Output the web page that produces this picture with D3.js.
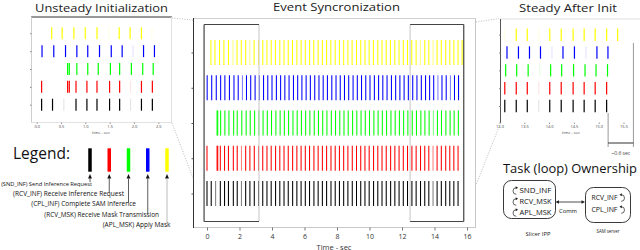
<!DOCTYPE html>
<html><head><meta charset="utf-8">
<script src="https://cdn.jsdelivr.net/npm/d3@7"></script>
<style>
html,body{margin:0;padding:0;background:#fff;}
svg{display:block;font-family:"Open Sans",sans-serif;}
</style></head><body>
<svg id="c" width="640" height="250"></svg>
<script>
// ---------------- DATA ----------------
const seriesKeys = ["SND_INF","RCV_INF","CPL_INF","RCV_MSK","APL_MSK"];
const seriesNames = ["Send Inference Request","Receive Inference Request","Complete SAM Inference","Receive Mask Transmission","Apply Mask"];

// event times (sec)
const sndInfTimes = [0.00,0.26,0.53,0.82,1.08,1.32,1.62,1.86,2.12,2.38,2.64,2.91,3.17,3.43,3.69,3.95,4.22,4.48,4.74,5.00,5.27,5.53,5.79,6.05,6.31,6.58,6.84,7.10,7.36,7.63,7.89,8.15,8.41,8.67,8.94,9.20,9.46,9.72,9.98,10.25,10.51,10.77,11.03,11.30,11.56,11.82,12.08,12.34,12.61,12.87,13.14,13.40,13.65,13.91,14.16,14.42,14.69,14.94,15.19,15.45];
const rcvInfTimes = [0.00,0.62,0.66,0.82,1.08,1.32,1.62,1.86,2.12,2.38,2.64,2.91,3.17,3.43,3.69,3.95,4.22,4.48,4.74,5.00,5.27,5.53,5.79,6.05,6.31,6.58,6.84,7.10,7.36,7.63,7.89,8.15,8.41,8.67,8.94,9.20,9.46,9.72,9.98,10.25,10.51,10.77,11.03,11.30,11.56,11.82,12.08,12.34,12.61,12.87,13.14,13.40,13.65,13.91,14.16,14.42,14.69,14.94,15.19,15.45];
const cplInfTimes = [0.62,0.66,0.84,1.10,1.35,1.64,1.86,2.14,2.41,2.66,2.93,3.19,3.45,3.71,3.97,4.24,4.50,4.76,5.02,5.29,5.55,5.81,6.07,6.33,6.60,6.86,7.12,7.38,7.65,7.91,8.17,8.43,8.69,8.96,9.22,9.48,9.74,10.00,10.27,10.53,10.79,11.05,11.32,11.58,11.84,12.10,12.36,12.63,12.89,13.16,13.41,13.67,13.93,14.18,14.43,14.70,14.96,15.21,15.47];
const rcvMskTimes = [0.01,0.29,0.57,0.84,1.10,1.38,1.66,1.92,2.18,2.43,2.69,2.96,3.22,3.48,3.74,4.00,4.27,4.53,4.79,5.05,5.32,5.58,5.84,6.10,6.36,6.63,6.89,7.15,7.41,7.68,7.94,8.20,8.46,8.72,8.99,9.25,9.51,9.77,10.03,10.30,10.56,10.82,11.08,11.35,11.61,11.87,12.13,12.39,12.66,12.92,13.19,13.45,13.70,13.95,14.21,14.46,14.72,14.98,15.23,15.48];
const aplMskTimes = [0.24,0.49,0.77,1.04,1.32,1.60,1.85,2.11,2.38,2.63,2.90,3.17,3.43,3.69,3.95,4.21,4.48,4.74,5.00,5.26,5.53,5.79,6.05,6.31,6.57,6.84,7.10,7.36,7.62,7.89,8.15,8.41,8.67,8.93,9.20,9.46,9.72,9.98,10.24,10.51,10.77,11.03,11.29,11.56,11.82,12.08,12.34,12.60,12.87,13.13,13.40,13.65,13.91,14.16,14.42,14.69,14.94,15.19,15.45,15.70];

// events that show up faint in the picture
const sndInfFaint = [0.53,2.12,13.91];
const rcvInfFaint = [2.12,13.91];
const cplInfFaint = [13.93];
const rcvMskFaint = [2.18,14.21,14.98];
const aplMskFaint = [1.60,2.63,13.13,13.91];

const mainTicks = [0,2,4,6,8,10,12,14,16];
const unsteadyTicks = [0,0.5,1.0,1.5,2.0,2.5];
const steadyTicks = [13.0,13.5,14.0,14.5,15.0,15.5];
const zoomLeft = [-0.18, 3.2];
const zoomRight = [12.5, 15.8];
const cycleMark = [15.19, 15.70];

const leftTasks = ["SND_INF","RCV_MSK","APL_MSK"];
const rightTasks = ["RCV_INF","CPL_INF"];

// ---------------- STYLE ----------------
const colors = {SND_INF:"#000000", RCV_INF:"#ff0000", CPL_INF:"#00ff00", RCV_MSK:"#0000ff", APL_MSK:"#ffff00"};
const timesBy = {SND_INF:sndInfTimes, RCV_INF:rcvInfTimes, CPL_INF:cplInfTimes, RCV_MSK:rcvMskTimes, APL_MSK:aplMskTimes};
const faintBy = {SND_INF:sndInfFaint, RCV_INF:rcvInfFaint, CPL_INF:cplInfFaint, RCV_MSK:rcvMskFaint, APL_MSK:aplMskFaint};
const rowOrder = seriesKeys.slice().reverse(); // top to bottom

const svg = d3.select("#c");

function fit(sel, w){
  const cur = parseFloat(sel.attr("font-size"));
  const bw = sel.node().getComputedTextLength();
  if (bw > 0) sel.attr("font-size", cur * w / bw);
  return sel;
}
function stretch(sel, w){
  return sel.attr("textLength", w).attr("lengthAdjust","spacingAndGlyphs");
}

function drawEvents(g, x, y, half, sw, faintOp){
  const dom = x.domain();
  seriesKeys.forEach(k => {
    const faint = new Set(faintBy[k]);
    const data = timesBy[k].filter(t => t >= dom[0] && t <= dom[1]);
    g.selectAll(null).data(data).join("line")
      .attr("x1", d => x(d)).attr("x2", d => x(d))
      .attr("y1", y(k) - half).attr("y2", y(k) + half)
      .attr("stroke", colors[k]).attr("stroke-width", sw)
      .attr("stroke-opacity", d => faint.has(d) ? faintOp : 1);
  });
}

function line(g, x1,y1,x2,y2, stroke, sw, dash){
  const l = g.append("line").attr("x1",x1).attr("y1",y1).attr("x2",x2).attr("y2",y2)
    .attr("stroke",stroke).attr("stroke-width",sw||1);
  if (dash) l.attr("stroke-dasharray", dash);
  return l;
}

// ---------------- MAIN CHART ----------------
const xMain = d3.scaleLinear().domain([0,16]).range([207,467]);
const yMain = d3.scalePoint().domain(rowOrder).range([52.5,193.5]);
const gm = svg.append("g");

// frame
line(gm, 193, 18.5, 476, 18.5, "#d0d0d0", 1);
line(gm, 475.5, 18.5, 475.5, 227.5, "#c8c8c8", 1);
line(gm, 193, 227.5, 476, 227.5, "#c8c8c8", 1);
line(gm, 193.5, 18, 193.5, 228, "#333", 1);

// y ticks
gm.append("g").attr("transform","translate(193.5,0)")
  .call(d3.axisLeft(yMain).tickSize(2).tickFormat(""))
  .call(a => a.select(".domain").remove())
  .call(a => a.selectAll("line").attr("stroke","#555"));

drawEvents(gm, xMain, yMain, 12.5, 1.05, 0.5);

// zoom highlight rectangles
const rT = 24.5, rB = 221.5;
{
  const a = xMain(zoomLeft[0]), b = xMain(zoomLeft[1]);
  line(gm, b, rT, b, rB, "#cfcfcf", 1.2);
  line(gm, a, rT, b, rT, "#444", 1.2);
  line(gm, a, rB, b, rB, "#444", 1.2);
  line(gm, a, rT, a, rB, "#444", 1.2);
}
{
  const a = xMain(zoomRight[0]), b = xMain(zoomRight[1]);
  line(gm, a, rT, a, rB, "#cfcfcf", 1.2);
  line(gm, a, rT, b, rT, "#444", 1.2);
  line(gm, a, rB, b, rB, "#444", 1.2);
  line(gm, b, rT, b, rB, "#444", 1.2);
}

// x axis
gm.append("g").attr("transform","translate(0,227.5)")
  .call(d3.axisBottom(xMain).tickValues(mainTicks).tickSize(3).tickFormat(d3.format("d")))
  .call(a => a.select(".domain").remove())
  .call(a => a.selectAll("line").attr("stroke","#777"))
  .call(a => a.selectAll("text").attr("y",6.3).attr("font-size",7).attr("fill","#333")
    .attr("font-family","'Open Sans',sans-serif"));

gm.append("text").attr("x",334).attr("y",249.5).attr("text-anchor","middle")
  .attr("font-size",7.5).attr("fill","#333").text("Time - sec");

stretch(svg.append("text").attr("x",336.5).attr("y",11).attr("text-anchor","middle")
  .attr("font-size",11).attr("fill","#222").text("Event Syncronization"), 127);

// dotted connectors
const dotC = "#bdbdbd";
line(svg, 172, 18, 193, 20, dotC, 1, "1,1.5");
line(svg, 172, 123, 193, 178, dotC, 1, "1,1.5");
line(svg, 476, 22, 499, 18.5, dotC, 1, "1,1.5");
line(svg, 499, 127, 476, 185, dotC, 1, "1,1.5");

// ---------------- UNSTEADY INSET ----------------
const xU = d3.scaleLinear().domain([0,2.5]).range([36.7,158.3]);
const yU = d3.scalePoint().domain(rowOrder).range([33.3,104.7]);
const gu = svg.append("g");
line(gu, 31, 17, 172, 17, "#333", 1);
line(gu, 171.5, 17, 171.5, 122.5, "#e2e2e2", 1);
line(gu, 31, 122.5, 172, 122.5, "#e2e2e2", 1);
line(gu, 31.5, 17, 31.5, 122.5, "#cfcfcf", 1);
gu.append("g").attr("transform","translate(31.5,0)")
  .call(d3.axisLeft(yU).tickSize(1.5).tickFormat(""))
  .call(a => a.select(".domain").remove())
  .call(a => a.selectAll("line").attr("stroke","#888"));
const xUc = xU.copy().domain([xU.invert(31), xU.invert(172)]);
drawEvents(gu, xUc, yU, 6, 1.2, 0.1);
gu.append("g").attr("transform","translate(0,122.5)")
  .call(d3.axisBottom(xU).tickValues(unsteadyTicks).tickSize(1.5).tickFormat(d3.format(".1f")))
  .call(a => a.select(".domain").remove())
  .call(a => a.selectAll("line").attr("stroke","#999"))
  .call(a => a.selectAll("text").attr("y",2.2).attr("font-size",4).attr("fill","#444")
    .attr("font-family","'Open Sans',sans-serif"));
gu.append("text").attr("x",101).attr("y",133.5).attr("text-anchor","middle")
  .attr("font-size",4).attr("fill","#444").text("time - sec");
stretch(svg.append("text").attr("x",101.5).attr("y",11.8).attr("text-anchor","middle")
  .attr("font-size",10.8).attr("fill","#222").text("Unsteady Initialization"), 133);

// ---------------- STEADY INSET ----------------
const xS = d3.scaleLinear().domain([13.0,15.5]).range([499.5,623.5]);
const yS = d3.scalePoint().domain(rowOrder).range([34.7,106]);
const gs = svg.append("g");
line(gs, 500, 19, 640, 19, "#e0e0e0", 1);
line(gs, 500.5, 19, 500.5, 123, "#555", 1);
gs.append("g").attr("transform","translate(500.5,0)")
  .call(d3.axisLeft(yS).tickSize(1.5).tickFormat(""))
  .call(a => a.select(".domain").remove())
  .call(a => a.selectAll("line").attr("stroke","#888"));
const xSc = xS.copy().domain([xS.invert(500.5), xS.invert(640)]);
drawEvents(gs, xSc, yS, 6.2, 1.2, 0.1);
gs.append("g").attr("transform","translate(0,122.5)")
  .call(d3.axisBottom(xS).tickValues(steadyTicks).tickSize(1.5).tickFormat(d3.format(".1f")))
  .call(a => a.select(".domain").remove())
  .call(a => a.selectAll("line").attr("stroke","#999"))
  .call(a => a.selectAll("text").attr("y",2.2).attr("font-size",4).attr("fill","#444")
    .attr("font-family","'Open Sans',sans-serif"));
gs.append("text").attr("x",571).attr("y",133.5).attr("text-anchor","middle")
  .attr("font-size",4).attr("fill","#444").text("time - sec");
// cycle bracket
{
  const a = xS(cycleMark[0]), b = xS(cycleMark[1]);
  line(gs, a, 113, a, 147, "#999", 1);
  line(gs, b, 43, b, 147, "#999", 1);
  line(gs, a, 143, b, 143, "#333", 1);
  gs.append("text").attr("x",(a+b)/2).attr("y",154.5).attr("text-anchor","middle")
    .attr("font-size",5).attr("fill","#444").text("~0.6 sec");
}
stretch(svg.append("text").attr("x",568).attr("y",12.2).attr("text-anchor","middle")
  .attr("font-size",11.3).attr("fill","#222").text("Steady After Init"), 98);

// ---------------- LEGEND ----------------
const gl = svg.append("g");
fit(gl.append("text").attr("x",13).attr("y",159).attr("font-size",14).attr("fill","#111").text("Legend:"), 57);
const xL = d3.scalePoint().domain(seriesKeys).range([90,167]);
const labelY = [183.5,193.5,204.2,215,224.5];
const labelEnd = [92,124,136,159,170.5];
const labelW = [91,111,105,115,68];
seriesKeys.forEach((k,i) => {
  const cx = xL(k);
  gl.append("rect").attr("x",cx-1.75).attr("y",148.3).attr("width",3.5).attr("height",23.4).attr("fill",colors[k]);
  gl.append("path").attr("d",`M${cx},174 L${cx-2},178.5 L${cx+2},178.5 Z`).attr("fill","#111");
  line(gl, cx, 178.5, cx, labelY[i]-1.5, i===4 ? "#aaa" : "#333", 0.8);
  const t = gl.append("text").attr("x",labelEnd[i]).attr("y",labelY[i]+2).attr("text-anchor","end")
    .attr("font-size",6).attr("fill","#111").text(`(${k}) ${seriesNames[i]}`);
  fit(t, labelW[i]);
});

// ---------------- TASK OWNERSHIP ----------------
const gt = svg.append("g");
stretch(gt.append("text").attr("x",570).attr("y",173).attr("text-anchor","middle")
  .attr("font-size",12.5).attr("fill","#111").text("Task (loop) Ownership"), 134);
gt.append("rect").attr("x",503.5).attr("y",180.5).attr("width",52).attr("height",38).attr("rx",8)
  .attr("fill","none").attr("stroke","#222").attr("stroke-width",0.9);
gt.append("rect").attr("x",585.5).attr("y",187.5).attr("width",45).attr("height",35).attr("rx",8)
  .attr("fill","none").attr("stroke","#222").attr("stroke-width",0.9);

const yLeftTask = d3.scalePoint().domain(leftTasks).range([191,213]);
const yRightTask = d3.scalePoint().domain(rightTasks).range([198,210]);
function loop(g, cx, cy, dir){
  const r = 3.3;
  g.append("path").attr("d",
    `M${cx+dir*1.8},${cy-r} A${r},${r} 0 1 ${dir>0?0:1} ${cx+dir*1.8},${cy+r}`)
    .attr("fill","none").attr("stroke","#222").attr("stroke-width",0.7);
  g.append("path").attr("d",
    `M${cx+dir*3.6},${cy-r} L${cx+dir*1.2},${cy-r-1.5} L${cx+dir*1.2},${cy-r+1.5} Z`).attr("fill","#222");
}
leftTasks.forEach(k => {
  const cy = yLeftTask(k);
  loop(gt, 514.5, cy, 1);
  fit(gt.append("text").attr("x",519.5).attr("y",cy+2).attr("font-size",6).attr("fill","#111").text(k), 32);
});
rightTasks.forEach(k => {
  const cy = yRightTask(k);
  loop(gt, 623, cy, -1);
  fit(gt.append("text").attr("x",591.5).attr("y",cy+2).attr("font-size",6).attr("fill","#111").text(k), 26);
});
line(gt, 557, 202, 583.5, 202, "#222", 0.8);
gt.append("path").attr("d","M555.5,202 L559,200.3 L559,203.7 Z").attr("fill","#222");
gt.append("path").attr("d","M585,202 L581.5,200.3 L581.5,203.7 Z").attr("fill","#222");
fit(gt.append("text").attr("x",568).attr("y",212.5).attr("text-anchor","middle").attr("font-size",5.5).attr("fill","#111").text("Comm"), 18);
fit(gt.append("text").attr("x",538).attr("y",235.5).attr("text-anchor","middle").attr("font-size",5.5).attr("fill","#222").text("Slicer IPP"), 25);
fit(gt.append("text").attr("x",608).attr("y",232.5).attr("text-anchor","middle").attr("font-size",5.5).attr("fill","#222").text("SAM server"), 23);
</script>
</body></html>
